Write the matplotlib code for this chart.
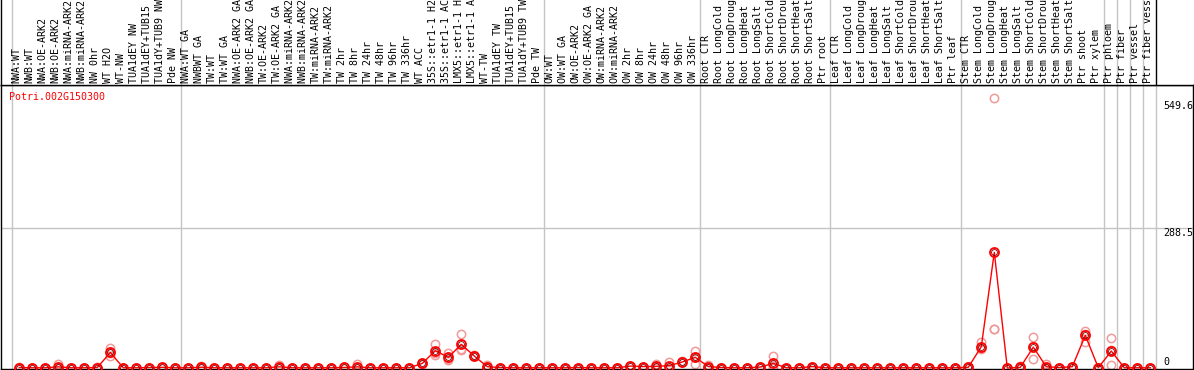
import matplotlib
matplotlib.use('Agg')
import matplotlib.pyplot as plt
import numpy as np

gene = 'Potri.002G150300'

labels = [
    # NW
    'NWA:WT', 'NWB:WT', 'NWA:OE-ARK2', 'NWB:OE-ARK2', 'NWA:miRNA-ARK2', 'NWB:miRNA-ARK2',
    'NW 0hr', 'WT H2O', 'WT-NW', 'TUA1dEY NW', 'TUA1dEY+TUB15 NW', 'TUA1dY+TUB9 NW', 'Pde NW',
    # TW
    'NWA:WT GA', 'NWBWT GA', 'TW:WT', 'TW:WT GA', 'NWA:OE-ARK2 GA', 'NWB:OE-ARK2 GA',
    'TW:OE-ARK2', 'TW:OE-ARK2 GA', 'NWA:miRNA-ARK2 GA', 'NWB:miRNA-ARK2 GA', 'TW:miRNA-ARK2',
    'TW:miRNA-ARK2 GA', 'TW 2hr', 'TW 8hr', 'TW 24hr', 'TW 48hr', 'TW 96hr', 'TW 336hr',
    'WT ACC', '35S::etr1-1 H2O', '35S::etr1-1 ACC', 'LMX5::etr1-1 H2O', 'LMX5::etr1-1 ACC',
    'WT-TW', 'TUA1dEY TW', 'TUA1dEY+TUB15 TW', 'TUA1dY+TUB9 TW', 'Pde TW',
    # OW
    'OW:WT', 'OW:WT GA', 'OW:OE-ARK2', 'OW:OE-ARK2 GA', 'OW:miRNA-ARK2', 'OW:miRNA-ARK2 GA',
    'OW 2hr', 'OW 8hr', 'OW 24hr', 'OW 48hr', 'OW 96hr', 'OW 336hr',
    # root
    'Root CTR', 'Root LongCold', 'Root LongDrought', 'Root LongHeat', 'Root LongSalt',
    'Root ShortCold', 'Root ShortDrought', 'Root ShortHeat', 'Root ShortSalt', 'Ptr root',
    # leaf
    'Leaf CTR', 'Leaf LongCold', 'Leaf LongDrought', 'Leaf LongHeat', 'Leaf LongSalt',
    'Leaf ShortCold', 'Leaf ShortDrought', 'Leaf ShortHeat', 'Leaf ShortSalt', 'Ptr leaf',
    # stem
    'Stem CTR', 'Stem LongCold', 'Stem LongDrought', 'Stem LongHeat', 'Stem LongSalt',
    'Stem ShortCold', 'Stem ShortDrought', 'Stem ShortHeat', 'Stem ShortSalt', 'Ptr shoot',
    'Ptr xylem',
    'Ptr phloem', 'Ptr fiber', 'Ptr vessel', 'Ptr fiber vessel',
]
group_sizes = [13, 28, 12, 10, 10, 11, 1, 1, 1, 1]

means = [
    1, 0.5, 0.5, 2.5, 0.5, 0.5, 1, 32, 0.5, 0.5, 1, 1.5, 0.5,
    0.5, 1.7, 0.5, 0.5, 0.5, 0.5, 0.5, 2.5, 0.5, 0.5, 0.5, 0.5, 1.2, 2.5, 0.5, 0.5,
    0.5, 0.5, 9.6, 35.7, 22, 48.8, 24.7, 2.7, 1, 0.5, 0.5, 0.5,
    0.5, 0.5, 1, 0.5, 0.5, 0.5, 4, 3, 3.5, 5, 12.4, 22,
    3, 1, 0.5, 0.5, 2, 9.6, 0.5, 0.5, 3, 0.5,
    0.5, 0.5, 0.5, 0.5, 0.5, 0.5, 0.5, 0.5, 0.5, 0.5,
    1.5, 44, 238.4, 0, 1.4, 43, 2.7, 1, 2.7, 67.3, 0.7,
    35, 0.5, 0.5, 0.5,
]
rep1 = [
    1, 0.5, 0.5, 7.6, 0.5, 0.5, 2, 42, 0.5, 0.5, 1, 3, 0.5,
    0.5, 5, 0.5, 0.5, 0.5, 0.5, 0.5, 7, 0.5, 0.5, 0.5, 0.5, 3, 7.6, 0.5, 0.5,
    0.5, 0.5, 10, 49.5, 31.6, 70, 26, 6, 1, 0.5, 0.5, 0.5,
    0.5, 0.5, 1, 0.5, 0.5, 0.5, 4, 3, 8, 13, 13.5, 35.7,
    7, 1, 0.5, 0.5, 2, 24.7, 0.5, 0.5, 3, 0.5,
    0.5, 0.5, 0.5, 0.5, 0.5, 0.5, 0.5, 0.5, 0.5, 0.5,
    1.5, 53, 556, 0, 4, 64.6, 8, 1, 2.7, 77, 0.7,
    61, 0.5, 0.5, 0.5,
]
rep2 = [
    0.5, 0.5, 0.5, 0, 0.5, 0.5, 0.5, 30, 0.5, 0.5, 1, 1, 0.5,
    0.5, 0, 0.5, 0.5, 0.5, 0.5, 0.5, 0.5, 0.5, 0.5, 0.5, 0.5, 0.5, 0, 0.5, 0.5,
    0.5, 0.5, 9.5, 26.8, 16.5, 38.5, 24, 1.5, 1, 0.5, 0.5, 0.5,
    0.5, 0.5, 1, 0.5, 0.5, 0.5, 4, 3, 2, 1, 12, 7.6,
    1, 1, 0.5, 0.5, 2, 0, 0.5, 0.5, 3, 0.5,
    0.5, 0.5, 0.5, 0.5, 0.5, 0.5, 0.5, 0.5, 0.5, 0.5,
    1.5, 38.5, 79.7, 0, 0, 18, 0, 1, 2.7, 54, 0.7,
    6, 0.5, 0.5, 0.5,
]
rep3 = [
    1.5, 0.5, 0.5, 0, 0.5, 0.5, 0.5, 24, 0.5, 0.5, 1, 0.5, 0.5,
    0.5, 0, 0.5, 0.5, 0.5, 0.5, 0.5, 0, 0.5, 0.5, 0.5, 0.5, 0, 0, 0.5, 0.5,
    0.5, 0.5, 9.3, 30.8, 18, 38, 24, 0.6, 1, 0.5, 0.5, 0.5,
    0.5, 0.5, 1, 0.5, 0.5, 0.5, 4, 3, 0.5, 1, 11.7, 22.7,
    1, 1, 0.5, 0.5, 2, 4.1, 0.5, 0.5, 3, 0.5,
    0.5, 0.5, 0.5, 0.5, 0.5, 0.5, 0.5, 0.5, 0.5, 0.5,
    1.5, 40.5, 79.5, 0, 0.2, 46.4, 0, 1, 2.7, 71, 0.7,
    38, 0.5, 0.5, 0.5,
]
tick_vals = [0, 288.5, 549.6]
tick_text = ['0', '288.5', '549.6']

# figure geometry in pixels
W, H = 1194, 370
left_px, right_px = 1, 1193
head_px, bot_px = 85, 369
first_px, step_px = 19.3, 13.0

mono = 'DejaVu Sans Mono'
fsize = 7.2
grey = '#c4c4c4'

fig = plt.figure(figsize=(W / 100, H / 100), dpi=100)
ax = fig.add_axes([left_px / W, 1 - bot_px / H, (right_px - left_px) / W, (bot_px - head_px) / H])
hx = fig.add_axes([left_px / W, 1 - head_px / H, (right_px - left_px) / W, head_px / H], sharex=ax)

x = np.arange(len(labels))
ax.set_xlim((left_px - first_px) / step_px, (right_px - first_px) / step_px)
ax.set_ylim(-2.0, 583)
hx.set_ylim(0, 1)

for a in (ax, hx):
    a.set_xticks([])
    a.set_yticks([])
    for s in a.spines.values():
        s.set_color('black')
        s.set_linewidth(1.0)
hx.spines['top'].set_visible(False)
hx.spines['right'].set_visible(False)

# group separators
bounds = [-0.6] + list(np.cumsum(group_sizes) - 1 + 0.4)
for i, b in enumerate(bounds):
    ax.axvline(b, color=grey, lw=1.0, zorder=1)
    hx.axvline(b, color='black' if i == len(bounds) - 1 else grey, lw=1.0, zorder=1)

ax.axhline(tick_vals[1], color=grey, lw=1.0, zorder=1)

# sample labels
for xi, lab in zip(x, labels):
    hx.text(xi - 0.2, 2 / head_px, lab, rotation=90, ha='center', va='bottom',
            family=mono, fontsize=fsize, color='black', clip_on=False)

# replicates then means
for reps in (rep1, rep2, rep3):
    ax.plot(x, reps, 'o', ms=6, mfc='none', mec='#f09a9a', mew=1.1, zorder=2)
ax.plot(x, means, '-', color='red', lw=1.0, zorder=3)
ax.plot(x, means, 'o', ms=6.5, mfc='none', mec='red', mew=1.3, zorder=4)
ax.plot(x, means, 'o', ms=4.2, mfc='none', mec='#7a0000', mew=0.6, zorder=4)

# value labels on the right
tx = (1163 - left_px) / (right_px - left_px)
for v, t in zip(tick_vals, tick_text):
    if v == 0:
        ax.text(tx, v + 2, t, transform=ax.get_yaxis_transform(), ha='left', va='bottom',
                family=mono, fontsize=fsize, clip_on=True)
    else:
        ax.text(tx, v, t, transform=ax.get_yaxis_transform(), ha='left', va='top',
                family=mono, fontsize=fsize, clip_on=True)

fig.text(9 / W, 1 - 97 / H, gene, color='red', ha='left', va='center', family=mono, fontsize=fsize)

fig.savefig('out.png', dpi=100)
